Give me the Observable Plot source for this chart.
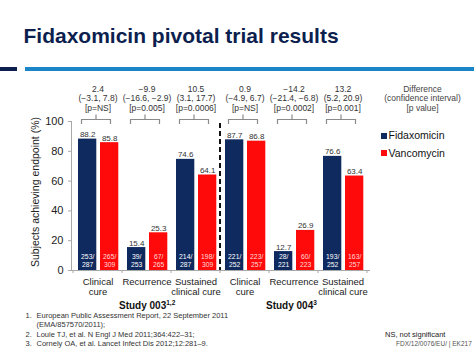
<!DOCTYPE html>
<html><head><meta charset="utf-8">
<script src="https://cdn.jsdelivr.net/npm/d3@7"></script>
<script src="https://cdn.jsdelivr.net/npm/@observablehq/plot@0.6"></script>
<style>
body{margin:0;background:#fff;font-family:"Liberation Sans",Arial,sans-serif;}
#wrap{position:relative;width:474px;height:355px;overflow:hidden;background:#fff;}
.abs{position:absolute;white-space:nowrap;}
#title{left:23.5px;top:25px;font-size:21px;line-height:21px;font-weight:bold;color:#0c1f4f;}
#ruleDark{left:0;top:67px;width:17px;height:4px;background:#0c1f4f;}
#ruleBlue{left:25px;right:0;top:67px;height:4px;background:#1a86c8;}
#chart{position:absolute;left:0;top:0;}
.leg{font-size:10.5px;line-height:10.5px;color:#111;}
.sw{position:absolute;width:6px;height:6px;}
.fn{font-size:7.5px;line-height:7.5px;color:#333;}
</style></head><body>
<div id="wrap">
  <div id="chart"></div>
  <div id="title" class="abs">Fidaxomicin pivotal trial results</div>
  <div id="ruleDark" class="abs"></div>
  <div id="ruleBlue" class="abs"></div>
  <div id="legend"></div>
  <div id="notes"></div>
</div>
<script>
// ---- data ----
const studies = ["003", "004"];
const studyLabels = ["Study 003", "Study 004"];
const studyRefs = ["1,2", "3"];
const endpoints = ["Clinical cure", "Recurrence", "Sustained clinical cure"];
const endpointLabels = ["Clinical\ncure", "Recurrence", "Sustained\nclinical cure"];
const series = ["Fidaxomicin", "Vancomycin"];
const seriesColors = ["#0f2a5f", "#ff0a0a"];
const fidaxomicin = [88.2, 15.4, 74.6, 87.7, 12.7, 76.6];
const vancomycin = [85.8, 25.3, 64.1, 86.8, 26.9, 63.4];
const fidaxomicinN = ["253/287", "39/253", "214/287", "221/252", "28/221", "193/252"];
const vancomycinN = ["265/309", "67/265", "198/309", "223/257", "60/223", "163/257"];
const differences = ["2.4", "\u22129.9", "10.5", "0.9", "\u221214.2", "13.2"];
const intervals = ["(\u22123.1, 7.8)", "(\u221216.6, \u22122.9)", "(3.1, 17.7)", "(\u22124.9, 6.7)", "(\u221221.4, \u22126.8)", "(5.2, 20.9)"];
const pValues = ["[p=NS]", "[p=0.005]", "[p=0.0006]", "[p=NS]", "[p=0.0002]", "[p=0.001]"];
const differenceHeader = "Difference\n(confidence interval)\n[p value]";
const yTicks = [0, 20, 40, 60, 80, 100];
const yLabel = "Subjects achieving endpoint (%)";
const footnotes = [
  ["1.", "European Public Assessment Report, 22 September 2011"],
  ["", "(EMA/857570/2011);"],
  ["2.", "Louie TJ, et al. N Engl J Med 2011;364:422\u201331;"],
  ["3.", "Cornely OA, et al. Lancet Infect Dis 2012;12:281\u20139."]
];
const nsNote = "NS, not significant";
const codeNote = "FDX/12/0076/EU/ | EK217";

// ---- table ----
const keys = studies.flatMap(s => endpoints.map(e => `${s} ${e}`));
const rows = keys.map((key, i) => ({
  key, label: endpointLabels[i % 3],
  fid: fidaxomicin[i], van: vancomycin[i],
  fidN: fidaxomicinN[i], vanN: vancomycinN[i],
  diff: differences[i], ci: intervals[i], p: pValues[i]
}));
const studyRows = studies.map((s, i) => ({key: keys[i * 3 + 1], label: studyLabels[i], ref: studyRefs[i]}));

function decor(index, scales) {
  const x = scales.x, y = scales.y, bw = x.bandwidth();
  const g = d3.create("svg:g");
  const bounds = keys.map(k => x(k)).concat([x(keys[keys.length - 1]) + bw]);
  g.selectAll("line.tk").data(bounds).join("line")
    .attr("x1", d => d).attr("x2", d => d).attr("y1", y(0)).attr("y2", y(0) + 3)
    .attr("stroke", "#a8a8a8");
  const sx = x(keys[3]);
  g.append("line").attr("x1", sx).attr("x2", sx).attr("y1", y(100) + 2).attr("y2", y(0))
    .attr("stroke", "#111").attr("stroke-width", 2).attr("stroke-dasharray", "5,3");
  const by = y(100) - 1.5;
  g.selectAll("path.br").data(keys).join("path")
    .attr("d", k => { const c = x(k) + bw / 2 - 1.5; return `M${c-14.5},${by+4.5}V${by}H${c+14.5}V${by+4.5}M${c},${by}V${by-5}`; })
    .attr("fill", "none").attr("stroke", "#8a8a8a").attr("stroke-width", 1.2);
  return g.node();
}

const font = "Liberation Sans, Arial, sans-serif";
const plot = Plot.plot({
  width: 474, height: 355,
  marginLeft: 71, marginRight: 105, marginTop: 121, marginBottom: 85,
  style: {fontFamily: font, background: "transparent", overflow: "visible"},
  x: {type: "band", domain: keys, padding: 0, axis: null},
  y: {domain: [0, 100], axis: null},
  color: {domain: series, range: seriesColors},
  marks: [
    Plot.frame({anchor: "left", stroke: "#a8a8a8"}),
    Plot.frame({anchor: "bottom", stroke: "#a8a8a8"}),
    Plot.axisY({ticks: yTicks, tickSize: 3, tickPadding: 5, fontSize: 11, stroke: "#a8a8a8", fill: "#222", label: null}),
    Plot.text([yLabel], {frameAnchor: "left", textAnchor: "middle", rotate: -90, dx: -36, dy: -4, fontSize: 10.5, fill: "#222"}),
    Plot.barY(rows, {x: "key", y: "fid", fill: () => series[0], insetLeft: 5, insetRight: 25.7}),
    Plot.barY(rows, {x: "key", y: "van", fill: () => series[1], insetLeft: 27, insetRight: 3.7}),
    Plot.text(rows, {x: "key", y: "fid", text: d => d.fid.toFixed(1), dx: -10.3, dy: -2, lineAnchor: "bottom", fontSize: 8, fill: "#333"}),
    Plot.text(rows, {x: "key", y: "van", text: d => d.van.toFixed(1), dx: 11.7, dy: -2, lineAnchor: "bottom", fontSize: 8, fill: "#333"}),
    Plot.text(rows, {x: "key", text: d => d.fidN.replace("/", "/\n"), frameAnchor: "bottom", lineAnchor: "bottom", dx: -10.3, dy: -4, fontSize: 6.8, lineHeight: 1.1, fill: "#ffffff"}),
    Plot.text(rows, {x: "key", text: d => d.vanN.replace("/", "/\n"), frameAnchor: "bottom", lineAnchor: "bottom", dx: 11.7, dy: -4, fontSize: 6.8, lineHeight: 1.1, fill: "#ffd8d8"}),
    Plot.text(rows, {x: "key", text: d => `${d.diff}\n${d.ci}\n${d.p}`, frameAnchor: "top", lineAnchor: "bottom", dy: -10.5, fontSize: 8.5, lineHeight: 1.12, fill: "#333"}),
    Plot.text([differenceHeader], {frameAnchor: "top-right", textAnchor: "middle", lineAnchor: "bottom", dx: 53, dy: -10.5, fontSize: 8.5, lineHeight: 1.12, fill: "#444"}),
    Plot.text(rows, {x: "key", text: "label", frameAnchor: "bottom", lineAnchor: "top", dy: 7.3, fontSize: 9.5, lineHeight: 1.05, fill: "#222"}),
    Plot.text(studyRows, {x: "key", text: "label", frameAnchor: "bottom", lineAnchor: "bottom", textAnchor: "start", dx: -28, dy: 38, fontSize: 10, fontWeight: "bold", fill: "#111"}),
    decor
  ]
});
document.getElementById("chart").appendChild(plot);

// superscript references on study labels
d3.select(plot).selectAll("text").each(function () {
  const s = studyRows.find(r => r.label === this.textContent);
  if (s) d3.select(this).append("tspan").attr("dy", -3.5).attr("font-size", 6.5).text(s.ref);
});

// legend
const legend = document.getElementById("legend");
series.forEach((name, i) => {
  const sw = document.createElement("div");
  sw.className = "sw";
  sw.style.left = "381px"; sw.style.top = (132.5 + i * 17.4) + "px";
  sw.style.background = seriesColors[i];
  legend.appendChild(sw);
  const t = document.createElement("div");
  t.className = "abs leg";
  t.style.left = "388.5px"; t.style.top = (130.4 + i * 17.4) + "px";
  t.textContent = name;
  legend.appendChild(t);
});

// notes
const notes = document.getElementById("notes");
footnotes.forEach(([num, txt], i) => {
  const top = 311.6 + i * 9.5;
  if (num) {
    const n = document.createElement("div");
    n.className = "abs fn"; n.style.left = "25.5px"; n.style.top = top + "px"; n.textContent = num;
    notes.appendChild(n);
  }
  const t = document.createElement("div");
  t.className = "abs fn"; t.style.left = "36.5px"; t.style.top = top + "px"; t.textContent = txt;
  notes.appendChild(t);
});
const ns = document.createElement("div");
ns.className = "abs fn"; ns.style.left = "385px"; ns.style.top = "330.6px"; ns.style.color = "#222"; ns.textContent = nsNote;
notes.appendChild(ns);
const code = document.createElement("div");
code.className = "abs fn"; code.style.left = "396px"; code.style.top = "339.5px"; code.style.fontSize = "6.5px"; code.style.color = "#555"; code.textContent = codeNote;
notes.appendChild(code);
</script>
</body></html>
